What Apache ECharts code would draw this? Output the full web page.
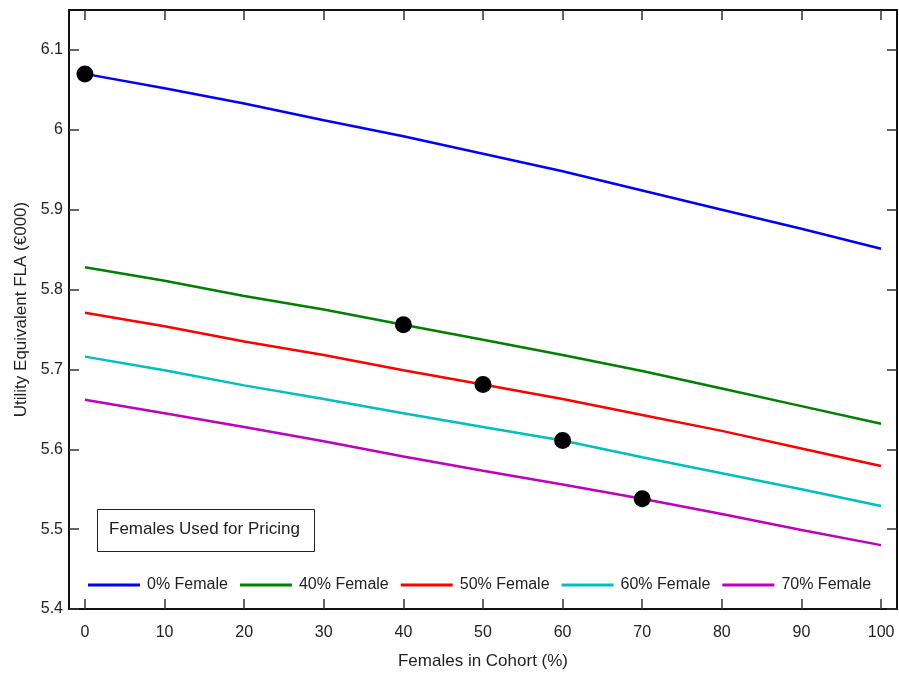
<!DOCTYPE html>
<html>
<head>
<meta charset="utf-8">
<script src="https://cdn.jsdelivr.net/npm/echarts@6/dist/echarts.min.js"></script>
<style>
html,body{margin:0;padding:0;background:#fff;}
#chart{width:899px;height:675px;}
</style>
</head>
<body>
<div id="chart"></div>
<script>
const xValues = [0, 10, 20, 30, 40, 50, 60, 70, 80, 90, 100];
const female0  = [6.070, 6.052, 6.033, 6.012, 5.992, 5.970, 5.948, 5.924, 5.900, 5.876, 5.851];
const female40 = [5.828, 5.811, 5.792, 5.775, 5.756, 5.737, 5.718, 5.698, 5.676, 5.654, 5.632];
const female50 = [5.771, 5.754, 5.735, 5.718, 5.699, 5.681, 5.663, 5.643, 5.623, 5.601, 5.579];
const female60 = [5.716, 5.699, 5.680, 5.663, 5.645, 5.628, 5.611, 5.590, 5.570, 5.550, 5.529];
const female70 = [5.662, 5.645, 5.628, 5.610, 5.591, 5.573, 5.556, 5.538, 5.519, 5.499, 5.480];
const pricingX = [0, 40, 50, 60, 70];
const pricingY = [6.070, 5.756, 5.681, 5.611, 5.538];
const seriesNames = ['0% Female', '40% Female', '50% Female', '60% Female', '70% Female'];
const seriesColors = ['#0000FF', '#008000', '#FF0000', '#00BFBF', '#BF00BF'];
const xTicks = [0, 10, 20, 30, 40, 50, 60, 70, 80, 90, 100];
const yTicks = [5.4, 5.5, 5.6, 5.7, 5.8, 5.9, 6.0, 6.1];

const allSeries = [female0, female40, female50, female60, female70];
const font = 'Liberation Sans, Arial, sans-serif';
const txt = '#222';

const chart = echarts.init(document.getElementById('chart'));

const lineSeries = allSeries.map((vals, i) => ({
  name: seriesNames[i],
  type: 'line',
  data: xValues.map((x, j) => [x, vals[j]]),
  symbol: 'none',
  showSymbol: false,
  lineStyle: { color: seriesColors[i], width: 2.5 },
  itemStyle: { color: seriesColors[i] },
  z: 2
}));

const axisLine = { show: true, onZero: false, lineStyle: { color: '#111', width: 2 } };
const tick = (vals) => ({ show: true, inside: true, length: 10, customValues: vals, lineStyle: { color: '#333', width: 1.5 } });

chart.setOption({
  animation: false,
  backgroundColor: '#fff',
  grid: { left: 69, right: 2, top: 10, bottom: 65, containLabel: false },
  xAxis: [
    {
      type: 'value', min: -2, max: 102, position: 'bottom',
      axisLine: axisLine, axisTick: tick(xTicks), splitLine: { show: false },
      axisLabel: { customValues: xTicks, color: txt, fontSize: 16, fontFamily: font, margin: 16 },
      name: 'Females in Cohort (%)', nameLocation: 'middle', nameGap: 44,
      nameTextStyle: { color: txt, fontSize: 17, fontFamily: font }
    },
    {
      type: 'value', min: -2, max: 102, position: 'top',
      axisLine: axisLine, axisTick: tick(xTicks), splitLine: { show: false },
      axisLabel: { show: false }
    }
  ],
  yAxis: [
    {
      type: 'value', min: 5.4, max: 6.15, position: 'left',
      axisLine: axisLine, axisTick: tick(yTicks), splitLine: { show: false },
      axisLabel: { customValues: yTicks, color: txt, fontSize: 16, fontFamily: font, margin: 6,
        formatter: v => String(Math.round(v * 10) / 10) },
      name: 'Utility Equivalent FLA (€000)', nameLocation: 'middle', nameGap: 37,
      nameTextStyle: { color: txt, fontSize: 17, fontFamily: font }
    },
    {
      type: 'value', min: 5.4, max: 6.15, position: 'right',
      axisLine: axisLine, axisTick: tick(yTicks), splitLine: { show: false },
      axisLabel: { show: false }
    }
  ],
  legend: {
    data: seriesNames.map(n => ({ name: n, icon: 'rect' })),
    left: 88, top: 577, padding: 0,
    orient: 'horizontal',
    itemWidth: 52, itemHeight: 3, itemGap: 12,
    textStyle: { color: txt, fontSize: 16, fontFamily: font, padding: [0, 0, 0, 2] }
  },
  graphic: [
    {
      type: 'rect', left: 97, top: 509,
      shape: { width: 217, height: 42 },
      style: { fill: '#fff', stroke: '#222', lineWidth: 1 }, z: 10
    },
    {
      type: 'text', left: 109, top: 521,
      style: { text: 'Females Used for Pricing', fill: txt, font: '17px Liberation Sans, Arial, sans-serif' }, z: 11
    }
  ],
  series: lineSeries.concat([{
    name: 'Pricing',
    type: 'scatter',
    data: pricingX.map((x, i) => [x, pricingY[i]]),
    symbol: 'circle', symbolSize: 17,
    itemStyle: { color: '#000', opacity: 1 },
    z: 5
  }])
});
</script>
</body>
</html>
